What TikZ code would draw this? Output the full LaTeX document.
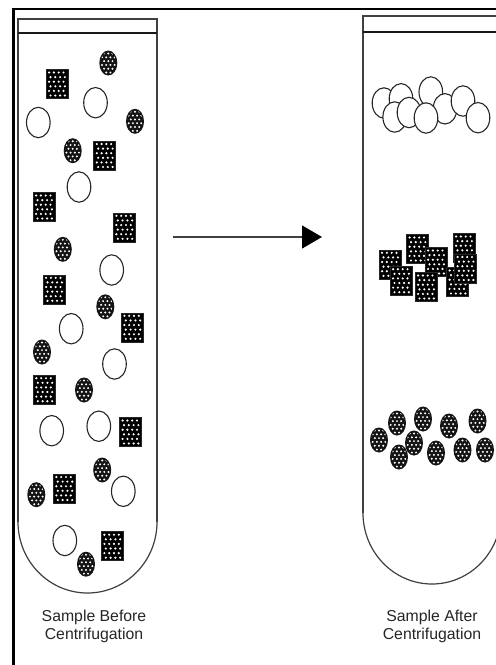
\documentclass[tikz,border=0pt]{standalone}
\usepackage{fontspec}
\setmainfont{Liberation Sans}
\usetikzlibrary{arrows.meta}
\tikzset{
  wall/.style={draw=black!75, line width=1.2pt},
  frameline/.style={draw=black, line width=2.2pt},
  caption/.style={anchor=base, inner sep=0pt, align=center, text=black!85,
    font=\fontsize{15.8}{17.3}\selectfont},
  sq/.pic={
    \filldraw[fill=black, draw=black!85, line width=0.6pt] (-11,-14.5) rectangle (11,14.5);
    \foreach \r in {0,...,5}{
      \foreach \c in {0,...,3}{
        \fill[white] ({-7.2+\c*4.8+mod(\r,2)*1.4-0.7},{-11.5+\r*4.6}) circle (1.2);
      }
    }
  },
  dt/.pic={
    \fill[black!92] (0,0) ellipse (9 and 12.5);
    \begin{scope}
      \clip (0,0) ellipse (7.6 and 11.2);
      \foreach \r in {0,...,5}{
        \foreach \c in {0,...,4}{
          \fill[white] ({-8.4+\c*4.2+mod(\r,2)*2.1},{-9.5+\r*3.8}) circle (1.1);
        }
      }
    \end{scope}
  },
  circ/.pic={
    \filldraw[fill=white, draw=black!85, line width=1.1pt] (0,0) ellipse (11.8 and 15.2);
  }
}
\begin{document}
\begin{tikzpicture}[x=1pt,y=-1pt]
\useasboundingbox (0,0) rectangle (496,665);
\clip (0,0) rectangle (496,665);
\fill[white] (0,0) rectangle (496,665);

% outer frame
\draw[frameline] (13.5,680) -- (13.5,9) -- (510,9);

% left tube
\draw[wall] (18,522) -- (18,19) -- (157,19) -- (157,522);
\draw[wall] (18,522) arc[start angle=180, end angle=0, x radius=69.5, y radius=71];
\draw[draw=black!90, line width=1.2pt] (18,33) -- (157,33);

% right tube
\draw[wall] (363,513) -- (363,16) -- (501,16) -- (501,513);
\draw[wall] (363,513) arc[start angle=180, end angle=0, x radius=69, y radius=71];
\draw[draw=black!90, line width=1.2pt] (363,32) -- (501,32);

% left tube contents
\foreach \p in {(95.5,102.7),(38.3,122.5),(79,187),(111.7,270),(71.2,328.7),(114.5,364),(51.7,430.7),(98.8,426.2),(123.3,491.3),(64.8,540.5)}
  \pic at \p {circ};
\foreach \p in {(57,84),(104.7,155.5),(44,207),(124.3,227.3),(54,289.3),(132.3,327.3),(44.3,389.7),(130.5,432),(64.3,488.5),(112.3,546.2)}
  \pic at \p {sq};
\foreach \p in {(108.3,63),(135,121.3),(72.7,150.7),(62.8,249.3),(105.3,306.8),(42,352),(84,390),(102.2,470),(36.3,494.7),(86,564.2)}
  \pic at \p {dt};

% right tube contents
\foreach \p in {(384,103),(401,98.8),(394.7,117),(430.8,92),(409,112.5),(445,108.8),(426,118),(463,101),(478,117.7)}
  \pic at \p {circ};
\foreach \p in {(390,264.3),(401,280.7),(417.5,249),(436,262),(426,287),(464,248),(457.5,282),(465.5,268.5)}
  \pic at \p {sq};
\foreach \p in {(379,440),(397,423),(399,457),(414,443),(423,419),(436,453),(449,426),(462.5,450),(477.5,421),(485,450)}
  \pic at \p {dt};

% arrow
\coordinate (arrowStart) at (173,237);
\coordinate (arrowEnd) at (322,237);
\draw[draw=black!75, line width=1.3pt, -{Triangle[length=20pt, width=23pt, color=black]}] (arrowStart) -- (arrowEnd);

% captions
\node[caption] (capBefore) at (94,639) {Sample Before\\Centrifugation};
\node[caption] (capAfter) at (432,639) {Sample After\\Centrifugation};
\end{tikzpicture}
\end{document}
